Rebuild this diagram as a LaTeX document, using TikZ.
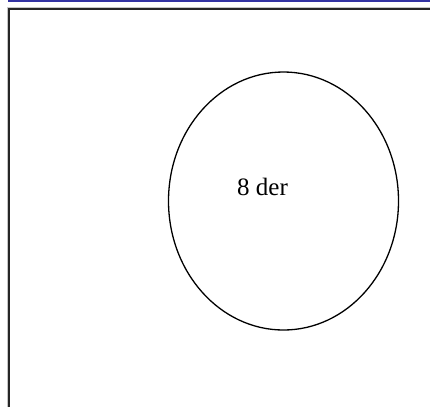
\documentclass[tikz,border=0pt]{standalone}
\usepackage{fontspec}
\setmainfont{Liberation Serif}
\usetikzlibrary{shapes.geometric,positioning}

\begin{document}
\begin{tikzpicture}[x=1pt, y=-1pt,
    setshape/.style={ellipse, draw, line width=1.3pt, minimum width=230pt, minimum height=258pt, inner sep=0pt},
    frameline/.style={line width=2pt, black!85}]
    \useasboundingbox (0, 0) rectangle (430, 407);
    % blue rule on top
    \draw[line width=1.6pt, blue!55!black!80] (8, 0.8) -- (430, 0.8);
    % frame with its shade
    \draw[line width=1pt, gray!45] (7.5, 407) -- (7.5, 7.5) -- (430, 7.5);
    \draw[frameline] (9, 407) -- (9, 9) -- (430, 9);
    % the set
    \node[setshape] (set) at (283.5, 201) {};
    \node[font=\fontsize{25}{30}\selectfont, anchor=base] (count) at (262.5, 195) {8 der};
\end{tikzpicture}
\end{document}
